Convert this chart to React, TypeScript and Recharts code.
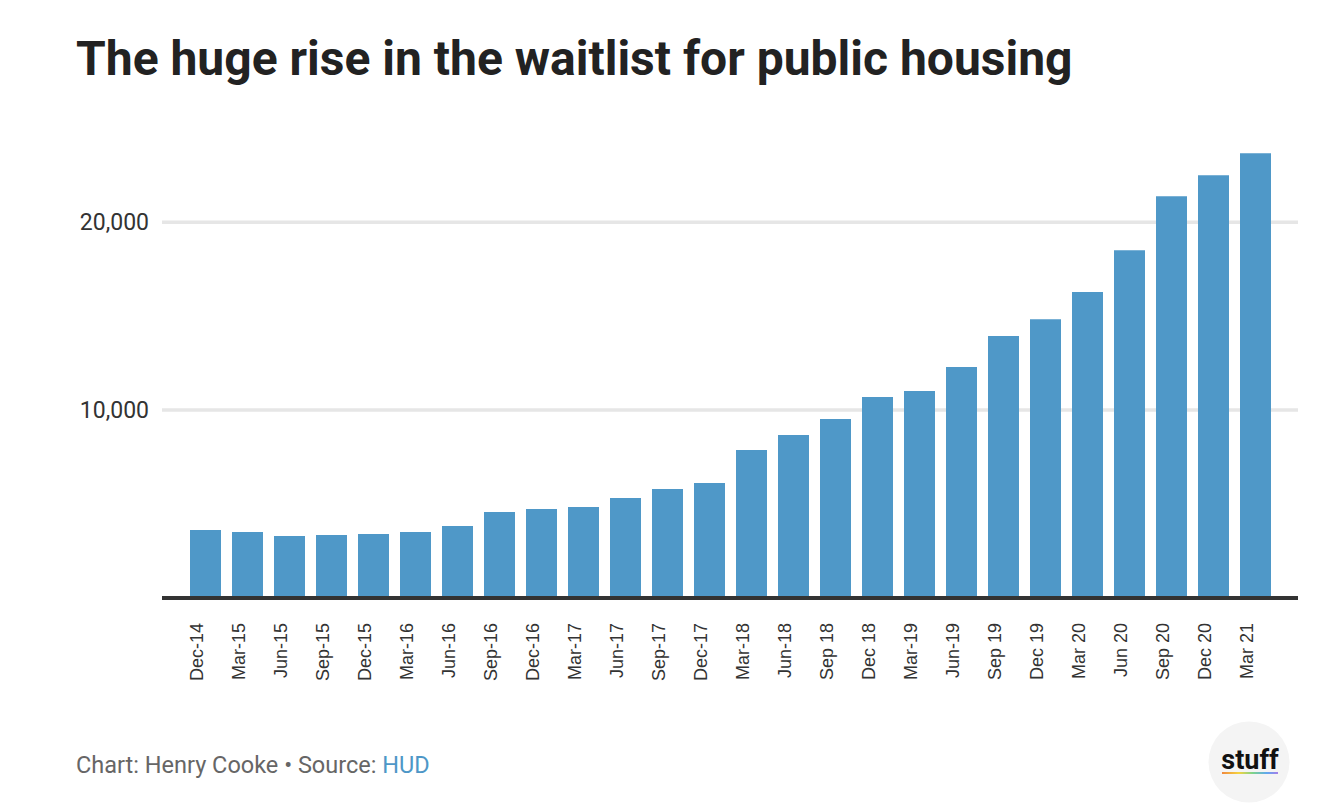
import React from "react"
import { Bar, BarChart, CartesianGrid, XAxis, YAxis } from "recharts"

// quarterly public housing register (HUD)
const quarters = [
  "Dec-14", "Mar-15", "Jun-15", "Sep-15", "Dec-15", "Mar-16", "Jun-16", "Sep-16", "Dec-16",
  "Mar-17", "Jun-17", "Sep-17", "Dec-17", "Mar-18", "Jun-18", "Sep 18", "Dec 18", "Mar-19",
  "Jun-19", "Sep 19", "Dec 19", "Mar 20", "Jun 20", "Sep 20", "Dec 20", "Mar 21",
]
const waitlist = [
  3620, 3510, 3300, 3350, 3400, 3510, 3830, 4570, 4730,
  4840, 5320, 5800, 6120, 7870, 8670, 9520, 10690, 11010,
  12290, 13940, 14840, 16280, 18510, 21380, 22500, 23670,
]
const yTicks = [10000, 20000]

const data = quarters.map((quarter, i) => ({ quarter, waitlist: waitlist[i] }))

const QuarterTick = (props: any) => {
  const { x, y, payload } = props
  return (
    <text
      transform={`translate(${x},${y + 17}) rotate(-90)`}
      textAnchor="end"
      dy={-2}
      fill="#333"
      fontSize={18}
      fontFamily="'Liberation Sans', Arial, sans-serif"
    >
      {payload.value}
    </text>
  )
}

export default function App() {
  return (
    <div
      style={{
        position: "absolute",
        left: 0,
        top: 0,
        width: 1322,
        height: 812,
        background: "#fff",
        fontFamily: "Roboto, sans-serif",
      }}
    >
      <div
        style={{
          position: "absolute",
          left: 76,
          top: 30,
          fontSize: 48,
          fontWeight: 700,
          color: "#222",
          lineHeight: "58px",
          whiteSpace: "nowrap",
        }}
      >
        The huge rise in the waitlist for public housing
      </div>

      <BarChart
        width={1322}
        height={812}
        data={data}
        margin={{ top: 147, right: 24, left: 0, bottom: 0 }}
      >
        <CartesianGrid
          vertical={false}
          horizontalValues={yTicks}
          stroke="#e6e6e6"
          strokeWidth={3.5}
        />
        <XAxis
          dataKey="quarter"
          interval={0}
          height={214}
          padding={{ left: 22, right: 22 }}
          axisLine={{ stroke: "#333", strokeWidth: 4 }}
          tickLine={false}
          tick={<QuarterTick />}
        />
        <YAxis
          width={162}
          domain={[0, 24000]}
          ticks={yTicks}
          axisLine={false}
          tickLine={false}
          tickSize={0}
          tickMargin={13}
          tick={{ fill: "#333", fontSize: 23, fontFamily: "Roboto, sans-serif" }}
          tickFormatter={(v) => v.toLocaleString("en-US")}
        />
        <Bar dataKey="waitlist" fill="#4f98c8" barSize={31} isAnimationActive={false} />
      </BarChart>

      <div
        style={{
          position: "absolute",
          left: 76,
          top: 751,
          fontSize: 23.5,
          color: "#666",
          whiteSpace: "nowrap",
        }}
      >
        Chart: Henry Cooke • Source: <span style={{ color: "#4e97c7" }}>HUD</span>
      </div>

      <svg style={{ position: "absolute", left: 1200, top: 712 }} width={100} height={100}>
        <defs>
          <linearGradient id="stuffLine" x1="0" x2="1" y1="0" y2="0">
            <stop offset="0%" stopColor="#f0883e" />
            <stop offset="30%" stopColor="#f5d33f" />
            <stop offset="55%" stopColor="#7cd38a" />
            <stop offset="80%" stopColor="#5fa8f0" />
            <stop offset="100%" stopColor="#a67ee8" />
          </linearGradient>
        </defs>
        <circle cx={49} cy={50} r={40.5} fill="#f4f4f4" />
        <text
          x={50}
          y={57}
          textAnchor="middle"
          fontSize={27}
          fontWeight={700}
          fontFamily="Roboto, sans-serif"
          fill="#111"
        >
          stuff
        </text>
        <rect x={22} y={60} width={56} height={2} fill="url(#stuffLine)" />
      </svg>
    </div>
  )
}
